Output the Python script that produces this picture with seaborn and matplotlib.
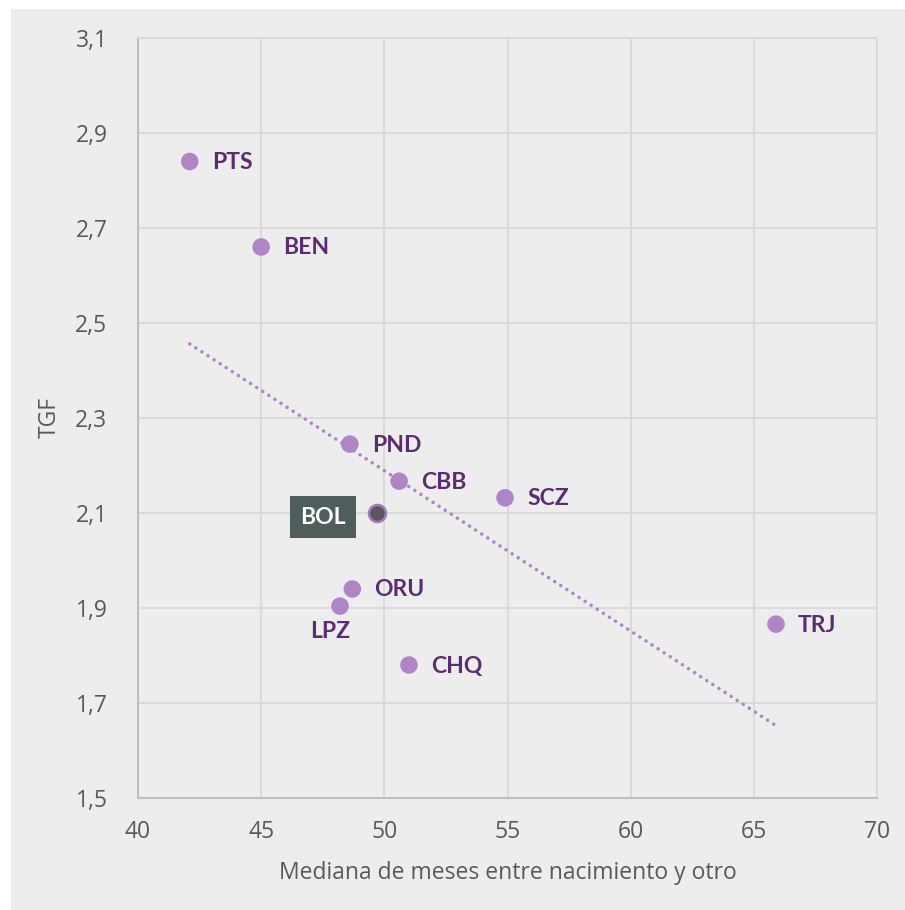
import numpy as np
import pandas as pd
import seaborn as sns
import matplotlib.pyplot as plt
from matplotlib.patches import Rectangle

# regiones
regions = ['PTS', 'BEN', 'PND', 'CBB', 'SCZ', 'ORU', 'LPZ', 'CHQ', 'TRJ']
meses = [42.1, 45.0, 48.6, 50.6, 54.9, 48.7, 48.2, 51.0, 65.9]
tgf = [2.84, 2.66, 2.245, 2.167, 2.132, 1.94, 1.904, 1.78, 1.866]

# total nacional
bol_label = 'BOL'
bol_meses = 49.7
bol_tgf = 2.10

x_ticks = [40, 45, 50, 55, 60, 65, 70]
y_ticks = [1.5, 1.7, 1.9, 2.1, 2.3, 2.5, 2.7, 2.9, 3.1]

df = pd.DataFrame({'region': regions, 'meses': meses, 'tgf': tgf})

purple = '#b085c8'
dark_purple = '#5b2c6f'
grey_txt = '#595959'

sns.set_style('white')
plt.rcParams['font.family'] = ['Open Sans', 'DejaVu Sans']

fig = plt.figure(figsize=(9.05, 9.10), dpi=100, facecolor='white')
fig.patches.append(Rectangle((11 / 905, 0), 1 - 11 / 905, 1 - 9 / 910,
                             transform=fig.transFigure, facecolor='#ededed',
                             edgecolor='none', zorder=-10))
ax = fig.add_axes([138 / 905, 1 - 798 / 910, (877 - 138) / 905, (798 - 38) / 910])
ax.set_facecolor('#ededed')

sns.regplot(data=df, x='meses', y='tgf', scatter=False, ci=None, ax=ax,
            line_kws=dict(color=purple, lw=2.6, linestyle=(0, (0.01, 2.0)),
                          dash_capstyle='round', zorder=2))
sns.scatterplot(data=df, x='meses', y='tgf', ax=ax, s=160, color=purple,
                edgecolor='none', zorder=3)
ax.scatter([bol_meses], [bol_tgf], s=150, color='#5e565e', edgecolor='#a27cba',
           linewidth=1.8, zorder=4)

lab_font = ['Lato', 'DejaVu Sans']
offsets = {'LPZ': (-10, -25)}
for r, xv, yv in zip(regions, meses, tgf):
    dx, dy = offsets.get(r, (22, -1))
    ax.annotate(r, (xv, yv), xytext=(dx, dy), textcoords='offset pixels',
                ha='center' if r == 'LPZ' else 'left', va='center',
                fontsize=16.5, fontweight='bold', color=dark_purple,
                family=lab_font, zorder=5)

ax.annotate(bol_label, (bol_meses, bol_tgf), xytext=(-31, -4), textcoords='offset pixels',
            ha='right', va='center', fontsize=16.5, fontweight='bold', color='white',
            family=lab_font,
            bbox=dict(boxstyle='square,pad=0.45', facecolor='#505d5d', edgecolor='none'),
            zorder=5)

ax.set_xlim(40, 70)
ax.set_ylim(1.5, 3.1)
ax.set_xticks(x_ticks)
ax.set_yticks(y_ticks)
ax.set_xticklabels([str(v) for v in x_ticks])
ax.set_yticklabels([f'{v:.1f}'.replace('.', ',') for v in y_ticks])
ax.tick_params(axis='both', length=0, labelsize=16.5, labelcolor=grey_txt, pad=16)
ax.tick_params(axis='y', pad=22)
ax.grid(True, color='#d9d9d9', lw=1.3)
ax.set_axisbelow(True)

for side in ['top', 'right']:
    ax.spines[side].set_color('#d9d9d9')
    ax.spines[side].set_linewidth(1.3)
for side in ['left', 'bottom']:
    ax.spines[side].set_color('#bfbfbf')
    ax.spines[side].set_linewidth(1.5)

ax.set_xlabel('Mediana de meses entre nacimiento y otro', fontsize=16.5, color=grey_txt, labelpad=12)
ax.set_ylabel('TGF', fontsize=16.5, color=grey_txt, labelpad=10)

fig.savefig('out.png', dpi=100, facecolor='white')
